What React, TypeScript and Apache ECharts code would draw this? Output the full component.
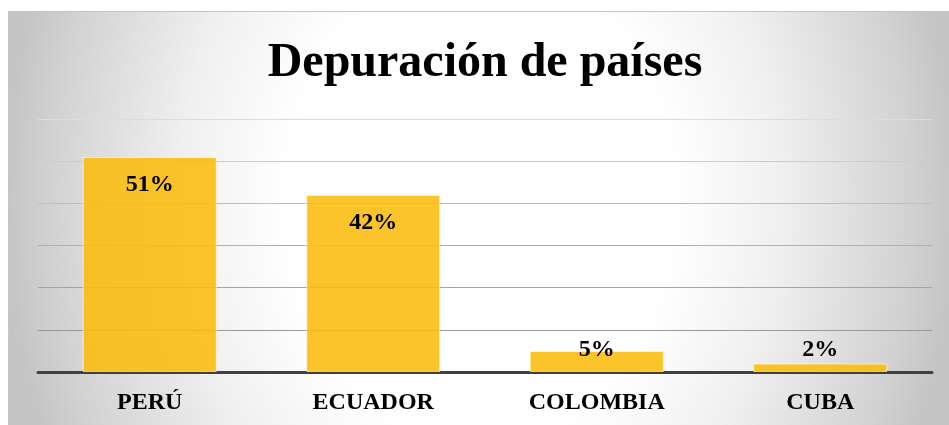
import React, { useEffect, useRef } from "react";
import * as echarts from "echarts";

const chartTitle = "Depuración de países";
const categories = ["PERÚ", "ECUADOR", "COLOMBIA", "CUBA"];
const values = [51, 42, 5, 2];
const axisMin = 0;
const axisMax = 60;
const axisInterval = 10;

export default function App() {
  const ref = useRef<HTMLDivElement>(null);
  useEffect(() => {
    const chart = echarts.init(ref.current!, null, { renderer: "svg" });
    const font = '"Liberation Serif", "Times New Roman", serif';
    chart.setOption({
      animation: false,
      backgroundColor: "transparent",
      graphic: [
        {
          type: "text",
          x: 476,
          y: 47,
          style: {
            text: chartTitle,
            fontFamily: font,
            fontWeight: "bold",
            fontSize: 48,
            fill: "#000",
            textAlign: "center",
            textVerticalAlign: "middle",
            align: "center",
            verticalAlign: "middle",
          },
        },
      ],
      grid: { left: 29, right: 17, top: 107, bottom: 53, containLabel: false },
      xAxis: {
        type: "category",
        data: categories,
        axisLine: { lineStyle: { color: "#404040", width: 3 } },
        axisTick: { show: false },
        axisLabel: {
          fontFamily: font,
          fontWeight: "bold",
          fontSize: 24,
          color: "#000",
          margin: 17,
        },
      },
      yAxis: {
        type: "value",
        min: axisMin,
        max: axisMax,
        interval: axisInterval,
        axisLabel: { show: false },
        axisLine: { show: false },
        axisTick: { show: false },
        splitLine: {
          lineStyle: {
            width: 1,
            color: ["#909090", "#999999", "#a4a4a4", "#b0b0b0", "#bebebe", "#cccccc", "#dcdcdc"],
          },
        },
      },
      series: [
        {
          type: "bar",
          barWidth: "60%",
          data: values.map((v) => ({
            value: v,
            label: v < 10 ? { position: "insideBottom", distance: 12 } : undefined,
          })),
          itemStyle: {
            color: "rgba(252,188,14,0.88)",
            borderColor: "rgba(255,255,255,0.6)",
            borderWidth: 1,
          },
          label: {
            show: true,
            position: "insideTop",
            distance: 14,
            formatter: "{c}%",
            fontFamily: font,
            fontWeight: "bold",
            fontSize: 24,
            color: "#000",
          },
        },
      ],
    });
    return () => chart.dispose();
  }, []);
  return (
    <div
      style={{
        position: "fixed",
        left: 8,
        top: 11,
        width: 941,
        height: 414,
        boxSizing: "border-box",
        borderTop: "1px solid #c6c6c6",
        borderLeft: "1px solid #c6c6c6",
        background:
          "radial-gradient(ellipse 480px 600px at 471px 188px, #ffffff 0%, #ffffff 40%, #f0f0f0 62.5%, #d1d1d1 90%, #c6c6c6 98%, #c4c4c4 100%)",
      }}
    >
      <div ref={ref} style={{ width: 940, height: 413 }} />
    </div>
  );
}
